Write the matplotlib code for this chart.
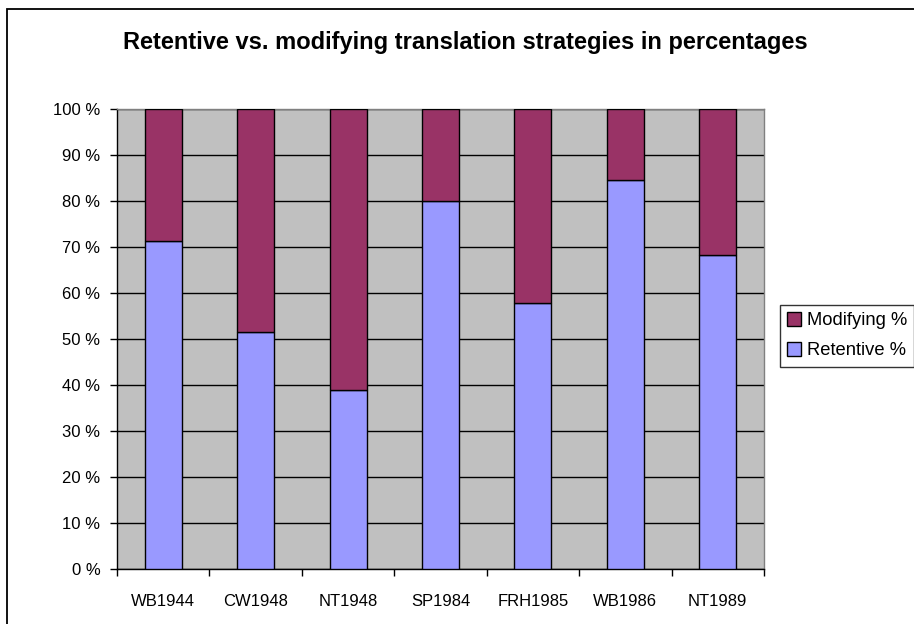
import matplotlib
matplotlib.use("Agg")
import matplotlib.pyplot as plt
from matplotlib.patches import Rectangle, Patch
import numpy as np

categories = ["WB1944", "CW1948", "NT1948", "SP1984", "FRH1985", "WB1986", "NT1989"]
retentive = [71.2, 51.5, 39.0, 80.0, 57.8, 84.6, 68.2]
modifying = [100 - r for r in retentive]
yticks = list(range(0, 101, 10))
ytick_labels = [f"{v} %" for v in yticks]

plt.rcParams['font.family'] = ['Liberation Sans', 'DejaVu Sans']

W, H = 914, 624
fig = plt.figure(figsize=(W / 100, H / 100), dpi=100)
fig.patch.set_facecolor("white")

# outer chart border (extends beyond crop on right and bottom)
fig.patches.append(Rectangle((7 / W, -0.05), 1.2, 1 - 9 / H + 0.05, transform=fig.transFigure,
                             fill=False, edgecolor="black", linewidth=1.3, zorder=0))

left, right, top, bottom = 117, 764, 109, 569
ax = fig.add_axes([left / W, 1 - bottom / H, (right - left) / W, (bottom - top) / H])
ax.set_facecolor("#C0C0C0")

x = np.arange(len(categories))
bw = 0.4
ax.bar(x, retentive, bw, color="#9999FF", edgecolor="black", linewidth=1.0, zorder=3,
       label="Retentive %")
ax.bar(x, modifying, bw, bottom=retentive, color="#993366", edgecolor="black",
       linewidth=1.0, zorder=3, label="Modifying %")

ax.set_xlim(-0.5, len(categories) - 0.5)
ax.set_ylim(0, 100)
ax.set_yticks(yticks)
ax.set_yticklabels(ytick_labels)
ax.yaxis.grid(True, color="black", linewidth=1.0, zorder=1)
ax.set_axisbelow(True)

ax.set_xticks(np.arange(-0.5, len(categories), 1.0))
ax.set_xticklabels([])
ax.set_xticks(x, minor=True)
ax.set_xticklabels(categories, minor=True)
ax.tick_params(axis="x", which="major", direction="out", length=5, width=1, color="black")
ax.tick_params(axis="x", which="minor", length=0, pad=18, labelsize=12)
ax.tick_params(axis="y", direction="out", length=5, width=1, color="black", pad=7, labelsize=12)

for s in ["left", "bottom"]:
    ax.spines[s].set_color("black")
    ax.spines[s].set_linewidth(1.0)
for s in ["top", "right"]:
    ax.spines[s].set_color("#808080")
    ax.spines[s].set_linewidth(1.0)

fig.text((122 + 808) / 2 / W, 1 - 43 / H,
         "Retentive vs. modifying translation strategies in percentages",
         ha="center", va="center", fontsize=17, fontweight="bold")

handles = [Patch(facecolor="#993366", edgecolor="black", linewidth=1.0),
           Patch(facecolor="#9999FF", edgecolor="black", linewidth=1.0)]
leg = fig.legend(handles, ["Modifying %", "Retentive %"], loc="upper left",
                 bbox_to_anchor=(780 / W, 1 - 305 / H), bbox_transform=fig.transFigure,
                 fontsize=13.2, frameon=True, fancybox=False, edgecolor="black",
                 handlelength=0.75, handleheight=0.75, handletextpad=0.3,
                 borderpad=0.4, labelspacing=0.7, borderaxespad=0)
leg.get_frame().set_linewidth(1.0)

fig.savefig("out.png", dpi=100)
